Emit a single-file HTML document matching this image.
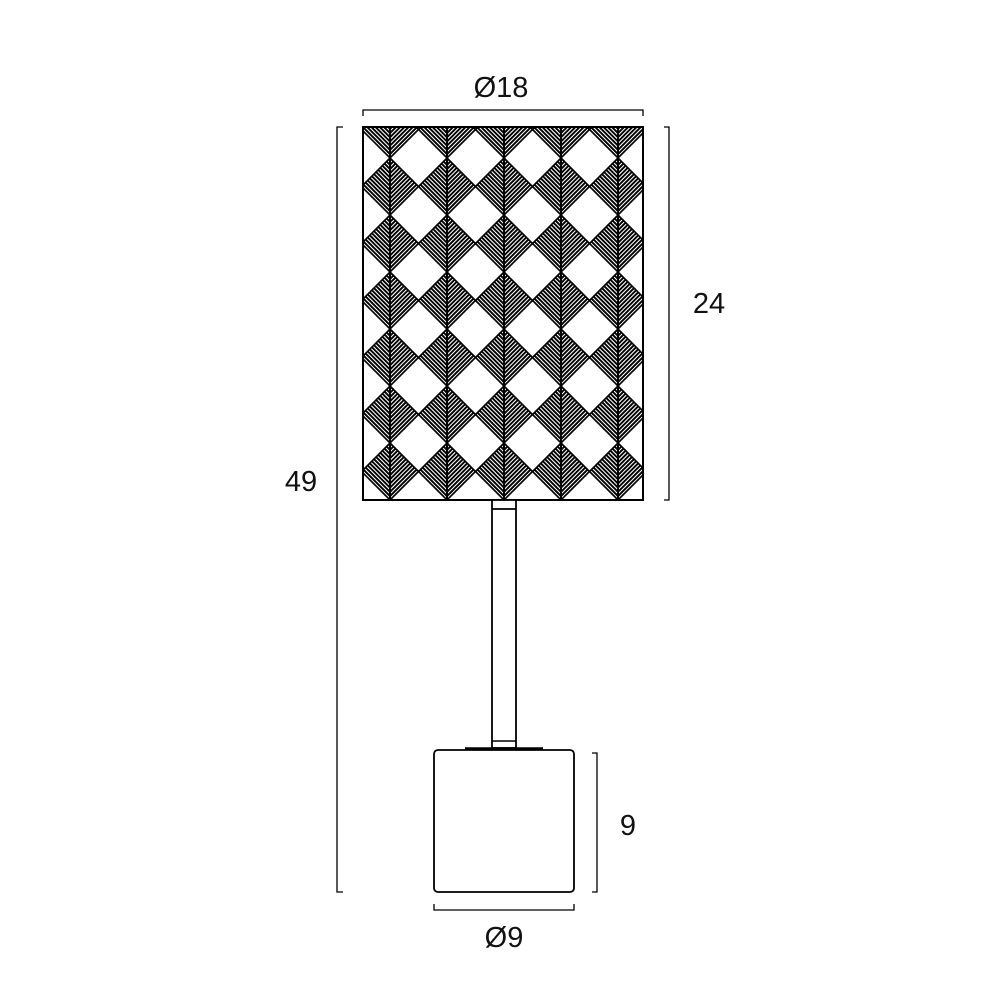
<!DOCTYPE html>
<html><head><meta charset="utf-8"><style>
body{margin:0;background:#fff;}
svg{display:block}
text{font-family:"Liberation Sans",sans-serif;font-size:29px;fill:#111}
</style></head><body>
<svg id="s" width="1000" height="1000" viewBox="0 0 1000 1000" xmlns="http://www.w3.org/2000/svg">
<defs>
<clipPath id="shade"><rect x="363" y="127" width="280" height="373"/></clipPath>
<clipPath id="dia"><polygon points="0,-28.5 28.5,0 0,28.5 -28.5,0"/></clipPath>
<g id="dk">
<g clip-path="url(#dia)" stroke="#000" stroke-width="1.9" fill="none" id="hatch"></g>
<polygon points="0,-28.5 28.5,0 0,28.5 -28.5,0" fill="none" stroke="#000" stroke-width="1.6"/>
</g>
</defs>
<g clip-path="url(#shade)" id="pat"></g>
<rect x="363" y="127" width="280" height="373" fill="none" stroke="#000" stroke-width="2"/>
<rect x="492" y="500" width="24" height="248" fill="#fff" stroke="#000" stroke-width="1.8"/>
<line x1="492" y1="509" x2="516" y2="509" stroke="#000" stroke-width="1.8"/>
<line x1="492" y1="741" x2="516" y2="741" stroke="#000" stroke-width="1.5"/>
<line x1="465" y1="748.5" x2="543" y2="748.5" stroke="#000" stroke-width="2.5"/>
<rect x="434" y="750" width="140" height="142" rx="4" fill="#fff" stroke="#000" stroke-width="1.8"/>
<g stroke="#000" stroke-width="1.3" fill="none">
<polyline points="363,116 363,110 643,110 643,116"/>
<polyline points="664,127 669,127 669,500 664,500"/>
<polyline points="343,127 337,127 337,892 343,892"/>
<polyline points="592,753 597,753 597,892 592,892"/>
<polyline points="434,904 434,910 574,910 574,904"/>
</g>
<text x="501" y="97" text-anchor="middle">Ø18</text>
<text x="709" y="313" text-anchor="middle">24</text>
<text x="301" y="491" text-anchor="middle">49</text>
<text x="628" y="835" text-anchor="middle">9</text>
<text x="504" y="947" text-anchor="middle">Ø9</text>
</svg>
<script>
var NS="http://www.w3.org/2000/svg";
var h=document.getElementById('hatch');
for(var t=-30;t<=32;t+=4.2){
 var p=document.createElementNS(NS,'polyline');
 p.setAttribute('points',(-40)+','+(t-40)+' 0,'+t+' 40,'+(t-40));
 h.appendChild(p);
}
var vl=document.createElementNS(NS,'line');
vl.setAttribute('x1',0);vl.setAttribute('y1',-29);vl.setAttribute('x2',0);vl.setAttribute('y2',29);
vl.setAttribute('stroke','#000');vl.setAttribute('stroke-width','2');
document.getElementById('dk').appendChild(vl);
var pat=document.getElementById('pat');
for(var i=-1;i<=5;i++){for(var j=0;j<=7;j++){
 var u=document.createElementNS(NS,'use');
 u.setAttribute('href','#dk');
 u.setAttribute('transform','translate('+(390+57*i)+','+(129.5+57*j)+')');
 pat.appendChild(u);
}}
for(var i=0;i<5;i++){var l=document.createElementNS(NS,'line');var x=390+57*i;
 l.setAttribute('x1',x);l.setAttribute('x2',x);l.setAttribute('y1',127);l.setAttribute('y2',500);
 l.setAttribute('stroke','#000');l.setAttribute('stroke-width','1.5');pat.appendChild(l);}
</script>
</body></html>
